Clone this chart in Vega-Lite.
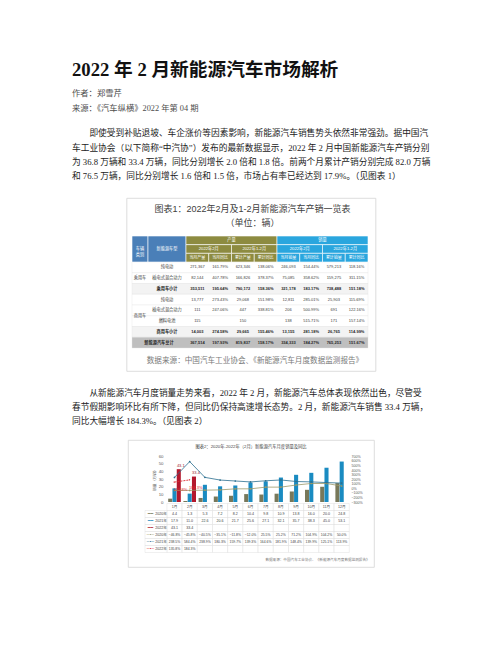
{
  "$schema": "https://vega.github.io/schema/vega-lite/v6.json",
  "padding": 0,
  "background": "white",
  "spacing": 0,
  "bounds": "flush",
  "center": true,
  "datasets": {
    "t1rows": [
      {"row": "乘用车纯电动", "cat": "乘用车", "type": "纯电动", "kind": "item", "当月产量": "271,367", "产量当月同比": "161.79%", "累计产量": "623,346", "产量累计同比": "138.06%", "当月销量": "246,093", "销量当月同比": "154.44%", "累计销量": "579,213", "销量累计同比": "118.16%"},
      {"row": "乘用车插电", "cat": "乘用车", "type": "插电式混合动力", "kind": "item", "当月产量": "82,144", "产量当月同比": "407.78%", "累计产量": "166,826", "产量累计同比": "378.37%", "当月销量": "75,085", "销量当月同比": "358.62%", "累计销量": "159,275", "销量累计同比": "311.15%"},
      {"row": "乘用车小计", "cat": "乘用车", "type": "乘用车小计", "kind": "sub", "当月产量": "353,511", "产量当月同比": "195.64%", "累计产量": "790,172", "产量累计同比": "158.36%", "当月销量": "321,178", "销量当月同比": "183.17%", "累计销量": "738,488", "销量累计同比": "151.18%"},
      {"row": "商用车纯电动", "cat": "商用车", "type": "纯电动", "kind": "item", "当月产量": "13,777", "产量当月同比": "273.43%", "累计产量": "29,068", "产量累计同比": "151.98%", "当月销量": "12,811", "销量当月同比": "285.01%", "累计销量": "25,903", "销量累计同比": "115.69%"},
      {"row": "商用车插电", "cat": "商用车", "type": "插电式混合动力", "kind": "item", "当月产量": "111", "产量当月同比": "247.06%", "累计产量": "447", "产量累计同比": "338.81%", "当月销量": "206", "销量当月同比": "500.99%", "累计销量": "691", "销量累计同比": "122.16%"},
      {"row": "商用车燃料电池", "cat": "商用车", "type": "燃料电池", "kind": "item", "当月产量": "115", "产量当月同比": "", "累计产量": "150", "产量累计同比": "", "当月销量": "138", "销量当月同比": "515.71%", "累计销量": "171", "销量累计同比": "157.14%"},
      {"row": "商用车小计", "cat": "商用车", "type": "商用车小计", "kind": "sub", "当月产量": "14,003", "产量当月同比": "274.58%", "累计产量": "29,665", "产量累计同比": "155.46%", "当月销量": "13,155", "销量当月同比": "281.18%", "累计销量": "26,765", "销量累计同比": "114.99%"},
      {"row": "总计", "cat": "", "type": "新能源汽车总计", "kind": "total", "当月产量": "367,514", "产量当月同比": "197.93%", "累计产量": "819,837", "产量累计同比": "158.17%", "当月销量": "334,333", "销量当月同比": "184.27%", "累计销量": "765,253", "销量累计同比": "151.67%"}
    ],
    "t1head": [
      {"level": "h1", "key": "产量", "label": "产量", "grp": "产量"},
      {"level": "h1", "key": "销量", "label": "销量", "grp": "销量"},
      {"level": "h2", "key": "产量2022年2月", "label": "2022年2月", "grp": "产量"},
      {"level": "h2", "key": "产量2022年1-2月", "label": "2022年1-2月", "grp": "产量"},
      {"level": "h2", "key": "销量2022年2月", "label": "2022年2月", "grp": "销量"},
      {"level": "h2", "key": "销量2022年1-2月", "label": "2022年1-2月", "grp": "销量"},
      {"level": "h3", "key": "当月产量", "label": "当月产量", "grp": "产量"},
      {"level": "h3", "key": "产量当月同比", "label": "当月同比", "grp": "产量"},
      {"level": "h3", "key": "累计产量", "label": "累计产量", "grp": "产量"},
      {"level": "h3", "key": "产量累计同比", "label": "累计同比", "grp": "产量"},
      {"level": "h3", "key": "当月销量", "label": "当月销量", "grp": "销量"},
      {"level": "h3", "key": "销量当月同比", "label": "当月同比", "grp": "销量"},
      {"level": "h3", "key": "累计销量", "label": "累计销量", "grp": "销量"},
      {"level": "h3", "key": "销量累计同比", "label": "累计同比", "grp": "销量"}
    ],
    "monthly": [
      {"month": "1月", "year": "2020", "sales": 4.4, "yoy": -0.468},
      {"month": "2月", "year": "2020", "sales": 1.3, "yoy": -0.458},
      {"month": "3月", "year": "2020", "sales": 5.3, "yoy": -0.405},
      {"month": "4月", "year": "2020", "sales": 7.2, "yoy": -0.351},
      {"month": "5月", "year": "2020", "sales": 8.2, "yoy": -0.118},
      {"month": "6月", "year": "2020", "sales": 10.4, "yoy": -0.12},
      {"month": "7月", "year": "2020", "sales": 9.8, "yoy": 0.255},
      {"month": "8月", "year": "2020", "sales": 10.9, "yoy": 0.252},
      {"month": "9月", "year": "2020", "sales": 13.8, "yoy": 0.712},
      {"month": "10月", "year": "2020", "sales": 16.0, "yoy": 1.049},
      {"month": "11月", "year": "2020", "sales": 20.0, "yoy": 1.042},
      {"month": "12月", "year": "2020", "sales": 24.8, "yoy": 0.5},
      {"month": "1月", "year": "2021", "sales": 17.9, "yoy": 2.385},
      {"month": "2月", "year": "2021", "sales": 11.0, "yoy": 5.844},
      {"month": "3月", "year": "2021", "sales": 22.6, "yoy": 2.389},
      {"month": "4月", "year": "2021", "sales": 20.6, "yoy": 1.803},
      {"month": "5月", "year": "2021", "sales": 21.7, "yoy": 1.597},
      {"month": "6月", "year": "2021", "sales": 25.6, "yoy": 1.393},
      {"month": "7月", "year": "2021", "sales": 27.1, "yoy": 1.646},
      {"month": "8月", "year": "2021", "sales": 32.1, "yoy": 1.819},
      {"month": "9月", "year": "2021", "sales": 35.7, "yoy": 1.484},
      {"month": "10月", "year": "2021", "sales": 38.3, "yoy": 1.399},
      {"month": "11月", "year": "2021", "sales": 45.0, "yoy": 1.251},
      {"month": "12月", "year": "2021", "sales": 53.1, "yoy": 1.139},
      {"month": "1月", "year": "2022", "sales": 43.1, "yoy": 1.358},
      {"month": "2月", "year": "2022", "sales": 33.4, "yoy": 1.843},
      {"month": "3月", "year": "2022", "sales": null, "yoy": null},
      {"month": "4月", "year": "2022", "sales": null, "yoy": null},
      {"month": "5月", "year": "2022", "sales": null, "yoy": null},
      {"month": "6月", "year": "2022", "sales": null, "yoy": null},
      {"month": "7月", "year": "2022", "sales": null, "yoy": null},
      {"month": "8月", "year": "2022", "sales": null, "yoy": null},
      {"month": "9月", "year": "2022", "sales": null, "yoy": null},
      {"month": "10月", "year": "2022", "sales": null, "yoy": null},
      {"month": "11月", "year": "2022", "sales": null, "yoy": null},
      {"month": "12月", "year": "2022", "sales": null, "yoy": null}
    ],
    "chartLegend": [
      {"year": "2020", "label": "2020年"},
      {"year": "2021", "label": "2021年"},
      {"year": "2022", "label": "2022年"}
    ]
  },
  "vconcat": [
    {"width": 502, "height": 60, "data": {"values": []}, "mark": "text"},
    {
      "width": 358,
      "height": 20,
      "data": {"values": [{"n": 1, "t": "2022 年 2 月新能源汽车市场解析"}]},
      "mark": {"type": "text", "align": "left", "fontSize": 18.7, "fontWeight": "bold", "color": "#111111"},
      "encoding": {
        "x": {"datum": "正文", "type": "nominal", "scale": {"type": "point", "align": 0}, "axis": null},
        "y": {"field": "n", "type": "ordinal", "scale": {"type": "band", "paddingInner": 0, "paddingOuter": 0}, "axis": null},
        "text": {"field": "t"}
      }
    },
    {"width": 502, "height": 5.5, "data": {"values": []}, "mark": "text"},
    {
      "width": 358,
      "height": 30,
      "data": {"values": [
        {"n": 1, "t": "作者：郑雪芹"},
        {"n": 2, "t": "来源：《汽车纵横》2022 年第 04 期"}
      ]},
      "mark": {"type": "text", "align": "left", "fontSize": 8.3, "color": "#4d4d4d"},
      "encoding": {
        "x": {"datum": "正文", "type": "nominal", "scale": {"type": "point", "align": 0}, "axis": null},
        "y": {"field": "n", "type": "ordinal", "scale": {"type": "band", "paddingInner": 0, "paddingOuter": 0}, "axis": null},
        "text": {"field": "t"}
      }
    },
    {"width": 502, "height": 10, "data": {"values": []}, "mark": "text"},
    {
      "width": 358,
      "height": 57.6,
      "data": {"values": [
        {"n": 1, "t": "\u200b　　即使受到补贴退坡、车企涨价等因素影响，新能源汽车销售势头依然非常强劲。据中国汽"},
        {"n": 2, "t": "车工业协会（以下简称“中汽协”）发布的最新数据显示，2022 年 2 月中国新能源汽车产销分别"},
        {"n": 3, "t": "为 36.8 万辆和 33.4 万辆，同比分别增长 2.0 倍和 1.8 倍。前两个月累计产销分别完成 82.0 万辆"},
        {"n": 4, "t": "和 76.5 万辆，同比分别增长 1.6 倍和 1.5 倍，市场占有率已经达到 17.9%。（见图表 1）"}
      ]},
      "mark": {"type": "text", "align": "left", "fontSize": 8.7, "color": "#222222"},
      "encoding": {
        "x": {"datum": "正文", "type": "nominal", "scale": {"type": "point", "align": 0}, "axis": null},
        "y": {"field": "n", "type": "ordinal", "scale": {"type": "band", "paddingInner": 0, "paddingOuter": 0}, "axis": null},
        "text": {"field": "t"}
      }
    },
    {"width": 502, "height": 13.9, "data": {"values": []}, "mark": "text"},
    {
      "width": 249,
      "height": 173,
      "view": {"stroke": "#d4d4d4", "strokeWidth": 0.8},
      "resolve": {"scale": {"x": "independent", "y": "independent"}},
      "layer": [
        {
          "data": {"values": [
            {"n": 1, "t": "图表1：2022年2月及1-2月新能源汽车产销一览表"},
            {"n": 2, "t": "（单位：辆）"}
          ]},
          "mark": {"type": "text", "fontSize": 9, "font": "Liberation Sans, Noto Sans CJK SC", "color": "#404040"},
          "encoding": {
            "x": {"datum": "标题", "type": "nominal", "scale": {"type": "point", "align": 0.506}, "axis": null},
            "y": {"field": "n", "type": "ordinal", "scale": {"type": "point", "padding": 0, "range": [11, 25]}, "axis": null},
            "text": {"field": "t"}
          }
        },
        {
          "data": {"name": "t1rows"},
          "mark": {"type": "rect", "stroke": "#e2e2e2", "strokeWidth": 0.4},
          "encoding": {
            "x": {"datum": "表", "type": "nominal", "scale": {"type": "band", "paddingInner": 0, "paddingOuter": 0, "range": [5.5, 241.5]}, "axis": null},
            "y": {"field": "row", "type": "nominal", "scale": {"type": "band", "domain": ["乘用车纯电动", "乘用车插电", "乘用车小计", "商用车纯电动", "商用车插电", "商用车燃料电池", "商用车小计", "总计"], "paddingInner": 0, "paddingOuter": 0, "range": [64, 150]}, "axis": null},
            "fill": {"condition": [{"test": "datum.kind == 'total'", "value": "#bfbfbf"}, {"test": "datum.kind == 'sub'", "value": "#f3f3f3"}], "value": "#ffffff"}
          }
        },
        {
          "data": {"values": [{"t": "车辆\n类别"}]},
          "encoding": {
            "x": {"datum": "类别", "type": "nominal", "scale": {"type": "band", "paddingInner": 0, "paddingOuter": 0, "range": [5.5, 21.5]}, "axis": null},
            "y": {"datum": "表头", "type": "nominal", "scale": {"type": "band", "paddingInner": 0, "paddingOuter": 0, "range": [38, 64]}, "axis": null}
          },
          "layer": [
            {"mark": {"type": "rect", "fill": "#4a7fb8", "stroke": "white", "strokeWidth": 0.6}},
            {"mark": {"type": "text", "color": "white", "fontSize": 4.2, "lineBreak": "\n", "font": "Liberation Sans, Noto Sans CJK SC"}, "encoding": {"text": {"field": "t"}}}
          ]
        },
        {
          "data": {"values": [{"t": "新能源车型"}]},
          "encoding": {
            "x": {"datum": "车型", "type": "nominal", "scale": {"type": "band", "paddingInner": 0, "paddingOuter": 0, "range": [21.5, 59.5]}, "axis": null},
            "y": {"datum": "表头", "type": "nominal", "scale": {"type": "band", "paddingInner": 0, "paddingOuter": 0, "range": [38, 64]}, "axis": null}
          },
          "layer": [
            {"mark": {"type": "rect", "fill": "#4a7fb8", "stroke": "white", "strokeWidth": 0.6}},
            {"mark": {"type": "text", "color": "white", "fontSize": 4.2, "font": "Liberation Sans, Noto Sans CJK SC"}, "encoding": {"text": {"field": "t"}}}
          ]
        },
        {
          "data": {"name": "t1head"},
          "transform": [{"filter": "datum.level == 'h1'"}],
          "encoding": {
            "x": {"field": "key", "type": "nominal", "scale": {"type": "band", "domain": ["产量", "销量"], "paddingInner": 0, "paddingOuter": 0, "range": [59.5, 241.5]}, "axis": null},
            "y": {"field": "level", "type": "nominal", "scale": {"type": "band", "domain": ["h1", "h2", "h3"], "paddingInner": 0, "paddingOuter": 0, "range": [38, 64]}, "axis": null}
          },
          "layer": [
            {"mark": {"type": "rect", "stroke": "white", "strokeWidth": 0.6}, "encoding": {"fill": {"condition": {"test": "datum.grp == '销量'", "value": "#2aa6de"}, "value": "#8d8b40"}}},
            {"mark": {"type": "text", "color": "white", "fontSize": 4.2, "font": "Liberation Sans, Noto Sans CJK SC"}, "encoding": {"text": {"field": "label"}}}
          ]
        },
        {
          "data": {"name": "t1head"},
          "transform": [{"filter": "datum.level == 'h2'"}],
          "encoding": {
            "x": {"field": "key", "type": "nominal", "scale": {"type": "band", "domain": ["产量2022年2月", "产量2022年1-2月", "销量2022年2月", "销量2022年1-2月"], "paddingInner": 0, "paddingOuter": 0, "range": [59.5, 241.5]}, "axis": null},
            "y": {"field": "level", "type": "nominal", "scale": {"type": "band", "domain": ["h1", "h2", "h3"], "paddingInner": 0, "paddingOuter": 0, "range": [38, 64]}, "axis": null}
          },
          "layer": [
            {"mark": {"type": "rect", "stroke": "white", "strokeWidth": 0.6}, "encoding": {"fill": {"condition": {"test": "datum.grp == '销量'", "value": "#2aa6de"}, "value": "#8d8b40"}}},
            {"mark": {"type": "text", "color": "white", "fontSize": 4.2, "font": "Liberation Sans, Noto Sans CJK SC"}, "encoding": {"text": {"field": "label"}}}
          ]
        },
        {
          "data": {"name": "t1head"},
          "transform": [{"filter": "datum.level == 'h3'"}],
          "encoding": {
            "x": {"field": "key", "type": "nominal", "scale": {"type": "band", "domain": ["当月产量", "产量当月同比", "累计产量", "产量累计同比", "当月销量", "销量当月同比", "累计销量", "销量累计同比"], "paddingInner": 0, "paddingOuter": 0, "range": [59.5, 241.5]}, "axis": null},
            "y": {"field": "level", "type": "nominal", "scale": {"type": "band", "domain": ["h1", "h2", "h3"], "paddingInner": 0, "paddingOuter": 0, "range": [38, 64]}, "axis": null}
          },
          "layer": [
            {"mark": {"type": "rect", "stroke": "white", "strokeWidth": 0.6}, "encoding": {"fill": {"condition": {"test": "datum.grp == '销量'", "value": "#2aa6de"}, "value": "#8d8b40"}}},
            {"mark": {"type": "text", "color": "white", "fontSize": 4, "font": "Liberation Sans, Noto Sans CJK SC"}, "encoding": {"text": {"field": "label"}}}
          ]
        },
        {
          "data": {"name": "t1rows"},
          "transform": [
            {"filter": "datum.kind != 'total'"},
            {"aggregate": [{"op": "count", "as": "rows"}], "groupby": ["cat"]}
          ],
          "mark": {"type": "text", "fontSize": 4.2, "color": "#404040", "font": "Liberation Sans, Noto Sans CJK SC"},
          "encoding": {
            "x": {"datum": "类别", "type": "nominal", "scale": {"type": "band", "paddingInner": 0, "paddingOuter": 0, "range": [5.5, 21.5]}, "axis": null},
            "y": {"field": "cat", "type": "nominal", "scale": {"type": "point", "domain": ["乘用车", "商用车"], "padding": 0, "range": [80.1, 117.8]}, "axis": null},
            "text": {"field": "cat"}
          }
        },
        {
          "data": {"name": "t1rows"},
          "transform": [{"filter": "datum.kind == 'item'"}],
          "mark": {"type": "text", "fontSize": 4.2, "color": "#404040", "font": "Liberation Sans, Noto Sans CJK SC"},
          "encoding": {
            "x": {"datum": "车型", "type": "nominal", "scale": {"type": "band", "paddingInner": 0, "paddingOuter": 0, "range": [21.5, 59.5]}, "axis": null},
            "y": {"field": "row", "type": "nominal", "scale": {"type": "band", "domain": ["乘用车纯电动", "乘用车插电", "乘用车小计", "商用车纯电动", "商用车插电", "商用车燃料电池", "商用车小计", "总计"], "paddingInner": 0, "paddingOuter": 0, "range": [64, 150]}, "axis": null},
            "text": {"field": "type"}
          }
        },
        {
          "data": {"name": "t1rows"},
          "transform": [{"filter": "datum.kind == 'sub'"}],
          "mark": {"type": "text", "fontSize": 4.2, "fontWeight": "bold", "color": "#262626", "font": "Liberation Sans, Noto Sans CJK SC"},
          "encoding": {
            "x": {"datum": "车型", "type": "nominal", "scale": {"type": "band", "paddingInner": 0, "paddingOuter": 0, "range": [21.5, 59.5]}, "axis": null},
            "y": {"field": "row", "type": "nominal", "scale": {"type": "band", "domain": ["乘用车纯电动", "乘用车插电", "乘用车小计", "商用车纯电动", "商用车插电", "商用车燃料电池", "商用车小计", "总计"], "paddingInner": 0, "paddingOuter": 0, "range": [64, 150]}, "axis": null},
            "text": {"field": "type"}
          }
        },
        {
          "data": {"name": "t1rows"},
          "transform": [{"filter": "datum.kind == 'total'"}],
          "mark": {"type": "text", "fontSize": 4.2, "fontWeight": "bold", "color": "#262626", "font": "Liberation Sans, Noto Sans CJK SC"},
          "encoding": {
            "x": {"datum": "合并", "type": "nominal", "scale": {"type": "band", "paddingInner": 0, "paddingOuter": 0, "range": [5.5, 59.5]}, "axis": null},
            "y": {"field": "row", "type": "nominal", "scale": {"type": "band", "domain": ["乘用车纯电动", "乘用车插电", "乘用车小计", "商用车纯电动", "商用车插电", "商用车燃料电池", "商用车小计", "总计"], "paddingInner": 0, "paddingOuter": 0, "range": [64, 150]}, "axis": null},
            "text": {"field": "type"}
          }
        },
        {
          "data": {"name": "t1rows"},
          "transform": [
            {"filter": "datum.kind == 'item'"},
            {"fold": ["当月产量", "产量当月同比", "累计产量", "产量累计同比", "当月销量", "销量当月同比", "累计销量", "销量累计同比"], "as": ["col", "val"]}
          ],
          "mark": {"type": "text", "fontSize": 4, "color": "#404040", "font": "Liberation Sans, Noto Sans CJK SC"},
          "encoding": {
            "x": {"field": "col", "type": "nominal", "scale": {"type": "band", "domain": ["当月产量", "产量当月同比", "累计产量", "产量累计同比", "当月销量", "销量当月同比", "累计销量", "销量累计同比"], "paddingInner": 0, "paddingOuter": 0, "range": [59.5, 241.5]}, "axis": null},
            "y": {"field": "row", "type": "nominal", "scale": {"type": "band", "domain": ["乘用车纯电动", "乘用车插电", "乘用车小计", "商用车纯电动", "商用车插电", "商用车燃料电池", "商用车小计", "总计"], "paddingInner": 0, "paddingOuter": 0, "range": [64, 150]}, "axis": null},
            "text": {"field": "val"}
          }
        },
        {
          "data": {"name": "t1rows"},
          "transform": [
            {"filter": "datum.kind != 'item'"},
            {"fold": ["当月产量", "产量当月同比", "累计产量", "产量累计同比", "当月销量", "销量当月同比", "累计销量", "销量累计同比"], "as": ["col", "val"]}
          ],
          "mark": {"type": "text", "fontSize": 4, "fontWeight": "bold", "color": "#262626", "font": "Liberation Sans, Noto Sans CJK SC"},
          "encoding": {
            "x": {"field": "col", "type": "nominal", "scale": {"type": "band", "domain": ["当月产量", "产量当月同比", "累计产量", "产量累计同比", "当月销量", "销量当月同比", "累计销量", "销量累计同比"], "paddingInner": 0, "paddingOuter": 0, "range": [59.5, 241.5]}, "axis": null},
            "y": {"field": "row", "type": "nominal", "scale": {"type": "band", "domain": ["乘用车纯电动", "乘用车插电", "乘用车小计", "商用车纯电动", "商用车插电", "商用车燃料电池", "商用车小计", "总计"], "paddingInner": 0, "paddingOuter": 0, "range": [64, 150]}, "axis": null},
            "text": {"field": "val"}
          }
        },
        {
          "data": {"values": [{"t": "数据来源：中国汽车工业协会、《新能源汽车月度数据监测报告》"}]},
          "mark": {"type": "text", "fontSize": 7.6, "color": "#7a7a7a", "font": "Noto Sans CJK SC"},
          "encoding": {
            "x": {"datum": "来源", "type": "nominal", "scale": {"type": "point", "align": 0.516}, "axis": null},
            "y": {"datum": "来源", "type": "nominal", "scale": {"type": "point", "align": 0.9422}, "axis": null},
            "text": {"field": "t"}
          }
        }
      ]
    },
    {"width": 502, "height": 14.8, "data": {"values": []}, "mark": "text"},
    {
      "width": 358,
      "height": 41.4,
      "data": {"values": [
        {"n": 1, "t": "\u200b　　从新能源汽车月度销量走势来看，2022 年 2 月，新能源汽车总体表现依然出色，尽管受"},
        {"n": 2, "t": "春节假期影响环比有所下降，但同比仍保持高速增长态势。2 月，新能源汽车销售 33.4 万辆，"},
        {"n": 3, "t": "同比大幅增长 184.3%。（见图表 2）"}
      ]},
      "mark": {"type": "text", "align": "left", "fontSize": 8.7, "color": "#222222"},
      "encoding": {
        "x": {"datum": "正文", "type": "nominal", "scale": {"type": "point", "align": 0}, "axis": null},
        "y": {"field": "n", "type": "ordinal", "scale": {"type": "band", "paddingInner": 0, "paddingOuter": 0}, "axis": null},
        "text": {"field": "t"}
      }
    },
    {"width": 502, "height": 11.8, "data": {"values": []}, "mark": "text"},
    {
      "width": 246,
      "height": 127,
      "view": {"stroke": "#d4d4d4", "strokeWidth": 0.8},
      "resolve": {
        "scale": {"x": "independent", "y": "independent", "xOffset": "independent", "color": "independent"},
        "axis": {"x": "independent", "y": "independent"}
      },
      "layer": [
        {
          "data": {"values": [{"t": "图表2：2020年-2022年（2月）新能源汽车月度销量及同比"}]},
          "mark": {"type": "text", "fontSize": 4.3, "color": "#404040", "font": "Liberation Sans, Noto Sans CJK SC"},
          "encoding": {
            "x": {"datum": "标题", "type": "nominal", "scale": {"type": "point", "align": 0.5}, "axis": null},
            "y": {"datum": "标题", "type": "nominal", "scale": {"type": "point", "align": 0.0551}, "axis": null},
            "text": {"field": "t"}
          }
        },
        {
          "data": {"name": "monthly"},
          "transform": [{"filter": "datum.sales != null"}],
          "encoding": {
            "x": {"field": "month", "type": "ordinal", "sort": ["1月", "2月", "3月", "4月", "5月", "6月", "7月", "8月", "9月", "10月", "11月", "12月"], "scale": {"type": "band", "domain": ["1月", "2月", "3月", "4月", "5月", "6月", "7月", "8月", "9月", "10月", "11月", "12月"], "paddingInner": 0, "paddingOuter": 0, "range": [38.9, 221.3]}, "axis": null},
            "xOffset": {"field": "year", "type": "nominal", "scale": {"domain": ["2020", "2021", "2022"], "paddingInner": 0.05, "paddingOuter": 0.3}},
            "y": {
              "field": "sales",
              "type": "quantitative",
              "scale": {"domain": [0, 60], "nice": false, "zero": false, "range": [62, 16.3]},
              "axis": {"orient": "left", "offset": -37, "values": [0, 10, 20, 30, 40, 50, 60], "domain": false, "ticks": false, "grid": false, "labelFontSize": 4.3, "labelColor": "#595959", "labelPadding": 2, "labelOverlap": false, "labelFont": "Liberation Sans", "title": "销量（万辆）", "titleFont": "Noto Sans CJK SC", "titleFontSize": 3.8, "titleFontWeight": "normal", "titleColor": "#595959", "titlePadding": 2}
            }
          },
          "layer": [
            {
              "mark": {"type": "bar"},
              "encoding": {"color": {"field": "year", "type": "nominal", "scale": {"domain": ["2020", "2021", "2022"], "range": ["#78785a", "#1a8bc1", "#b3182d"]}, "legend": null}}
            },
            {
              "transform": [{"filter": "datum.year == '2022'"}],
              "mark": {"type": "text", "fontSize": 4, "dx": 2, "dy": -3.5, "color": "#9e1a2a", "font": "Liberation Sans"},
              "encoding": {"text": {"field": "sales", "type": "quantitative", "format": ".1f"}}
            }
          ]
        },
        {
          "data": {"name": "monthly"},
          "transform": [{"filter": "datum.yoy != null"}],
          "encoding": {
            "x": {"field": "month", "type": "ordinal", "sort": ["1月", "2月", "3月", "4月", "5月", "6月", "7月", "8月", "9月", "10月", "11月", "12月"], "scale": {"type": "band", "domain": ["1月", "2月", "3月", "4月", "5月", "6月", "7月", "8月", "9月", "10月", "11月", "12月"], "paddingInner": 0, "paddingOuter": 0, "range": [38.9, 221.3]}, "axis": null},
            "y": {
              "field": "yoy",
              "type": "quantitative",
              "scale": {"domain": [-3, 7], "nice": false, "zero": false, "range": [62, 16.3]},
              "axis": {"orient": "right", "offset": -25, "values": [-3, -2, -1, 0, 1, 2, 3, 4, 5, 6, 7], "format": ".0%", "domain": false, "ticks": false, "grid": false, "labelFontSize": 3.6, "labelColor": "#595959", "labelPadding": 2, "labelOverlap": false, "labelFont": "Liberation Sans", "title": null}
            },
            "color": {"field": "year", "type": "nominal", "scale": {"domain": ["2020", "2021", "2022"], "range": ["#9a9868", "#2b6f8f", "#dd2a31"]}, "legend": null}
          },
          "layer": [
            {"transform": [{"filter": "datum.year != '2022'"}], "mark": {"type": "line", "strokeWidth": 0.8}},
            {"transform": [{"filter": "datum.year == '2022'"}], "mark": {"type": "line", "strokeWidth": 0.9, "strokeDash": [2, 1]}},
            {
              "mark": {"type": "point", "filled": true, "size": 3, "opacity": 1},
              "encoding": {"shape": {"condition": {"test": "datum.year == '2022'", "value": "triangle-right"}, "value": "circle"}}
            },
            {
              "transform": [{"filter": "datum.year == '2022'"}],
              "mark": {"type": "text", "fontSize": 4, "dx": 6, "dy": 8, "font": "Liberation Sans"},
              "encoding": {"text": {"field": "yoy", "type": "quantitative", "format": ".1%"}}
            }
          ]
        },
        {
          "data": {"name": "monthly"},
          "transform": [{"filter": "datum.year == '2020'"}],
          "encoding": {
            "x": {"field": "month", "type": "ordinal", "sort": ["1月", "2月", "3月", "4月", "5月", "6月", "7月", "8月", "9月", "10月", "11月", "12月"], "scale": {"type": "band", "domain": ["1月", "2月", "3月", "4月", "5月", "6月", "7月", "8月", "9月", "10月", "11月", "12月"], "paddingInner": 0, "paddingOuter": 0, "range": [38.9, 221.3]}, "axis": null},
            "y": {"datum": "月份", "type": "nominal", "scale": {"type": "band", "paddingInner": 0, "paddingOuter": 0, "range": [63.5, 70.5]}, "axis": null}
          },
          "layer": [
            {"mark": {"type": "rect", "fill": "white", "stroke": "#d9d9d9", "strokeWidth": 0.4}},
            {"mark": {"type": "text", "fontSize": 3.6, "color": "#404040", "font": "Liberation Sans, Noto Sans CJK SC"}, "encoding": {"text": {"field": "month"}}}
          ]
        },
        {
          "data": {"name": "monthly"},
          "encoding": {
            "x": {"field": "month", "type": "ordinal", "sort": ["1月", "2月", "3月", "4月", "5月", "6月", "7月", "8月", "9月", "10月", "11月", "12月"], "scale": {"type": "band", "domain": ["1月", "2月", "3月", "4月", "5月", "6月", "7月", "8月", "9月", "10月", "11月", "12月"], "paddingInner": 0, "paddingOuter": 0, "range": [38.9, 221.3]}, "axis": null},
            "y": {"field": "year", "type": "nominal", "scale": {"type": "band", "domain": ["2020", "2021", "2022"], "paddingInner": 0, "paddingOuter": 0, "range": [70.5, 91.5]}, "axis": null}
          },
          "layer": [
            {"mark": {"type": "rect", "fill": "white", "stroke": "#d9d9d9", "strokeWidth": 0.4}},
            {
              "transform": [{"filter": "datum.sales != null"}],
              "mark": {"type": "text", "fontSize": 3.6, "color": "#404040", "font": "Liberation Sans"},
              "encoding": {"text": {"field": "sales", "type": "quantitative", "format": ".1f"}}
            }
          ]
        },
        {
          "data": {"name": "monthly"},
          "encoding": {
            "x": {"field": "month", "type": "ordinal", "sort": ["1月", "2月", "3月", "4月", "5月", "6月", "7月", "8月", "9月", "10月", "11月", "12月"], "scale": {"type": "band", "domain": ["1月", "2月", "3月", "4月", "5月", "6月", "7月", "8月", "9月", "10月", "11月", "12月"], "paddingInner": 0, "paddingOuter": 0, "range": [38.9, 221.3]}, "axis": null},
            "y": {"field": "year", "type": "nominal", "scale": {"type": "band", "domain": ["2020", "2021", "2022"], "paddingInner": 0, "paddingOuter": 0, "range": [91.5, 112.5]}, "axis": null}
          },
          "layer": [
            {"mark": {"type": "rect", "fill": "white", "stroke": "#d9d9d9", "strokeWidth": 0.4}},
            {
              "transform": [{"filter": "datum.yoy != null"}],
              "mark": {"type": "text", "fontSize": 3.4, "color": "#404040", "font": "Liberation Sans"},
              "encoding": {"text": {"field": "yoy", "type": "quantitative", "format": ".1%"}}
            }
          ]
        },
        {
          "data": {"name": "chartLegend"},
          "encoding": {
            "x": {"datum": "图例", "type": "nominal", "scale": {"type": "band", "paddingInner": 0, "paddingOuter": 0, "range": [17, 38.9]}, "axis": null},
            "y": {"field": "year", "type": "nominal", "scale": {"type": "band", "domain": ["2020", "2021", "2022"], "paddingInner": 0, "paddingOuter": 0, "range": [70.5, 91.5]}, "axis": null}
          },
          "layer": [
            {"mark": {"type": "rect", "fill": "white", "stroke": "#d9d9d9", "strokeWidth": 0.4}},
            {
              "mark": {"type": "text", "text": "━━", "fontSize": 4.5, "dx": -5.5, "font": "DejaVu Sans"},
              "encoding": {"color": {"condition": [{"test": "datum.year == '2020'", "value": "#78785a"}, {"test": "datum.year == '2021'", "value": "#1a8bc1"}], "value": "#b3182d"}}
            },
            {"mark": {"type": "text", "fontSize": 3.6, "dx": 5, "color": "#404040", "font": "Liberation Sans, Noto Sans CJK SC"}, "encoding": {"text": {"field": "label"}}}
          ]
        },
        {
          "data": {"name": "chartLegend"},
          "encoding": {
            "x": {"datum": "图例", "type": "nominal", "scale": {"type": "band", "paddingInner": 0, "paddingOuter": 0, "range": [17, 38.9]}, "axis": null},
            "y": {"field": "year", "type": "nominal", "scale": {"type": "band", "domain": ["2020", "2021", "2022"], "paddingInner": 0, "paddingOuter": 0, "range": [91.5, 112.5]}, "axis": null}
          },
          "layer": [
            {"mark": {"type": "rect", "fill": "white", "stroke": "#d9d9d9", "strokeWidth": 0.4}},
            {
              "mark": {"type": "text", "text": "─•─", "fontSize": 4, "dx": -5.5, "font": "DejaVu Sans"},
              "encoding": {"color": {"condition": [{"test": "datum.year == '2020'", "value": "#9a9868"}, {"test": "datum.year == '2021'", "value": "#2b6f8f"}], "value": "#dd2a31"}}
            },
            {"mark": {"type": "text", "fontSize": 3.6, "dx": 5, "color": "#404040", "font": "Liberation Sans, Noto Sans CJK SC"}, "encoding": {"text": {"field": "label"}}}
          ]
        },
        {
          "data": {"values": [{"t": "数据来源：中国汽车工业协会、《新能源汽车月度数据监测报告》"}]},
          "mark": {"type": "text", "fontSize": 3.6, "color": "#7a7a7a", "font": "Noto Sans CJK SC"},
          "encoding": {
            "x": {"datum": "来源", "type": "nominal", "scale": {"type": "point", "align": 0.7703}, "axis": null},
            "y": {"datum": "来源", "type": "nominal", "scale": {"type": "point", "align": 0.9472}, "axis": null},
            "text": {"field": "t"}
          }
        }
      ]
    },
    {"width": 502, "height": 84, "data": {"values": []}, "mark": "text"}
  ],
  "config": {
    "view": {"stroke": null},
    "text": {"font": "Liberation Serif, Noto Sans CJK SC"}
  }
}
